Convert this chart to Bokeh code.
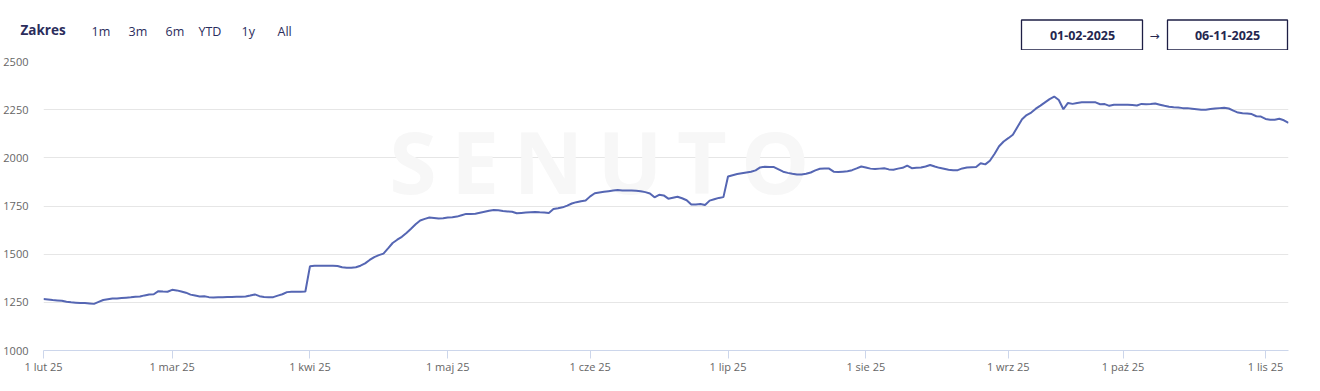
import pandas as pd
from bokeh.plotting import figure
from bokeh.models import Range1d, FixedTicker, Label, ColumnDataSource
from bokeh.core.properties import value
from bokeh.embed import file_html
from bokeh.resources import INLINE

# ---------------- data ----------------
missing_days = ["2025-03-30", "2025-07-27", "2025-09-06", "2025-09-07",
                "2025-09-13", "2025-09-14", "2025-09-21"]
month_names = {1: "sty", 2: "lut", 3: "mar", 4: "kwi", 5: "maj", 6: "cze",
               7: "lip", 8: "sie", 9: "wrz", 10: "paź", 11: "lis", 12: "gru"}

feb = [1267, 1265, 1262, 1260, 1258, 1253, 1250, 1248, 1246, 1246, 1244, 1242, 1252, 1262,
       1266, 1270, 1270, 1272, 1274, 1276, 1279, 1280, 1286, 1291, 1292, 1308, 1306, 1305]
mar = [1315, 1312, 1306, 1300, 1290, 1285, 1280, 1282, 1277, 1275, 1276, 1276, 1278, 1278, 1279,
       1279, 1280, 1285, 1291, 1282, 1278, 1276, 1277, 1285, 1292, 1303, 1305, 1305, 1305, 1306]
apr = [1437, 1440, 1440, 1440, 1440, 1440, 1439, 1432, 1429, 1429, 1432, 1440, 1452, 1470, 1485,
       1495, 1503, 1530, 1558, 1575, 1590, 1610, 1632, 1655, 1675, 1683, 1690, 1688, 1685, 1686]
may = [1690, 1692, 1695, 1702, 1709, 1709, 1710, 1715, 1720, 1725, 1729, 1728, 1724, 1722, 1720, 1712,
       1714, 1716, 1718, 1719, 1717, 1716, 1714, 1734, 1738, 1743, 1752, 1763, 1770, 1775, 1778]
jun = [1800, 1816, 1820, 1824, 1827, 1830, 1833, 1831, 1830, 1830, 1829, 1826, 1822, 1815, 1795,
       1808, 1805, 1788, 1793, 1798, 1790, 1780, 1758, 1758, 1760, 1755, 1778, 1785, 1792, 1796]
jul = [1903, 1910, 1916, 1920, 1924, 1928, 1935, 1950, 1954, 1953, 1952, 1940, 1928, 1922, 1917,
       1913, 1914, 1917, 1924, 1935, 1943, 1945, 1944, 1928, 1926, 1928, 1930, 1936, 1945, 1955]
aug = [1950, 1944, 1942, 1944, 1946, 1940, 1938, 1944, 1948, 1960, 1946, 1948, 1950, 1955, 1963, 1955,
       1948, 1943, 1938, 1936, 1936, 1945, 1950, 1951, 1952, 1972, 1966, 1985, 2020, 2060, 2085]
sep = [2102, 2120, 2160, 2200, 2222, 2235, 2255, 2271, 2288, 2305, 2318, 2300, 2252, 2285, 2280,
       2285, 2288, 2289, 2289, 2288, 2278, 2279, 2270, 2275, 2276]
oct_ = [2276, 2275, 2274, 2272, 2280, 2278, 2279, 2282, 2276, 2270, 2265, 2262, 2261, 2258, 2258, 2255,
        2252, 2249, 2249, 2253, 2256, 2258, 2260, 2256, 2245, 2235, 2232, 2230, 2227, 2216, 2214]
nov = [2202, 2198, 2198, 2203, 2195, 2182]

y_ticks = [1000, 1250, 1500, 1750, 2000, 2250, 2500]
range_buttons = ["1m", "3m", "6m", "YTD", "1y", "All"]
date_from = "01-02-2025"
date_to = "06-11-2025"
watermark = "\u2009".join("SENUTO")

values = feb + mar + apr + may + jun + jul + aug + sep + oct_ + nov
dates = [d for d in pd.date_range("2025-02-01", "2025-11-06")
         if d.strftime("%Y-%m-%d") not in missing_days]
idx = list(range(len(dates)))
month_starts = [i for i, d in enumerate(dates) if d.day == 1]
tick_labels = {i: f"1 {month_names[dates[i].month]} {dates[i].strftime('%y')}" for i in month_starts}

FONT = "Open Sans"
NAVY = "#2b2d5c"

# ---------------- header (separate root, page-pixel coordinates) ----------------
header = figure(width=1320, height=50, x_range=Range1d(0, 1320), y_range=Range1d(50, 0),
                output_backend="svg", toolbar_location=None, min_border=0,
                x_axis_location=None, y_axis_location=None)
header.grid.visible = False
header.outline_line_color = None

header.text(x=[20], y=[29], text=["Zakres"], text_font=value(FONT), text_font_style="bold",
            text_font_size="13.5px", text_color=NAVY, text_baseline="middle")
header.text(x=[91, 128, 165, 198, 241, 277], y=[31] * 6, text=range_buttons, text_font=value(FONT),
            text_font_size="12.5px", text_color=NAVY, text_baseline="middle")
header.quad(left=[1021, 1167], right=[1142, 1287], top=[19.5, 19.5], bottom=[49.5, 49.5],
            fill_color="white", line_color="#1e1f45", line_width=1.3)
header.text(x=[1082, 1227], y=[35, 35], text=[date_from, date_to], text_font=value(FONT),
            text_font_style="bold", text_font_size="12.5px", text_color="#25274f",
            text_align="center", text_baseline="middle")
header.text(x=[1154], y=[35], text=["→"], text_font=value("DejaVu Sans"), text_font_size="12px",
            text_color="#25274f", text_align="center", text_baseline="middle")

# ---------------- main chart ----------------
src = ColumnDataSource(dict(x=idx, y=values))
p = figure(width=1320, height=341, x_range=Range1d(0, len(idx) - 1), y_range=Range1d(1000, 2500),
           output_backend="svg", toolbar_location=None,
           min_border_left=43, min_border_right=32, min_border_top=11, min_border_bottom=41)
p.outline_line_color = None
p.xgrid.grid_line_color = None
p.ygrid.grid_line_color = "#e6e6e6"
p.ygrid.grid_line_width = 1

wm = Label(x=121, y=1985, text=watermark, text_font=FONT, text_font_size="86px", text_font_style="bold",
           text_color="#f7f7f7", text_align="center", text_baseline="middle", level="underlay")
p.add_layout(wm)

p.line("x", "y", source=src, line_color="#5566b3", line_width=2)

p.yaxis.ticker = FixedTicker(ticks=y_ticks)
p.yaxis.axis_line_color = None
p.yaxis.major_tick_line_color = None
p.yaxis.minor_tick_line_color = None
p.yaxis.major_label_standoff = 9
p.yaxis.major_label_text_font = FONT
p.yaxis.major_label_text_font_size = "11px"
p.yaxis.major_label_text_color = "#666666"

p.xaxis.ticker = FixedTicker(ticks=month_starts)
p.xaxis.major_label_overrides = tick_labels
p.xaxis.axis_line_color = "#ccd6eb"
p.xaxis.major_tick_line_color = "#ccd6eb"
p.xaxis.major_tick_out = 8
p.xaxis.major_tick_in = 0
p.xaxis.minor_tick_line_color = None
p.xaxis.major_label_standoff = 0
p.xaxis.major_label_text_font = FONT
p.xaxis.major_label_text_font_size = "11px"
p.xaxis.major_label_text_color = "#666666"

open("out.html", "w").write(file_html([header, p], INLINE))
